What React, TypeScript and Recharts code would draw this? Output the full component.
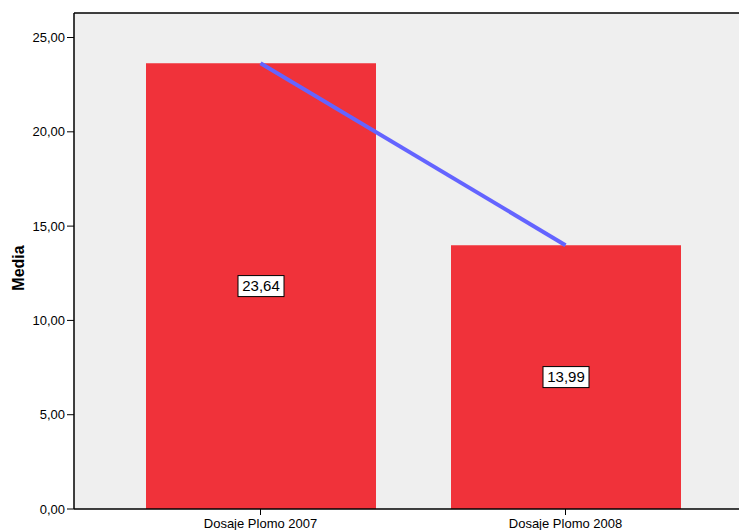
import React from "react";
import {
  Bar,
  CartesianGrid,
  ComposedChart,
  LabelList,
  Line,
  ReferenceLine,
  XAxis,
  YAxis,
} from "recharts";

const categories = ["Dosaje Plomo 2007", "Dosaje Plomo 2008"];
const means = [23.64, 13.99];
const yTicks = [0, 5, 10, 15, 20, 25];
const yMax = 26.3;

const data = categories.map((name, i) => ({ name, media: means[i] }));

const fmt = (v: number) => v.toFixed(2).replace(".", ",");

function ValueBox(props: any) {
  const { x, y, width, height, value } = props;
  const cx = x + width / 2;
  const cy = y + height / 2;
  const txt = fmt(value);
  const w = 46;
  const h = 21;
  return (
    <g>
      <rect x={cx - w / 2} y={cy - h / 2} width={w} height={h} fill="#fff" stroke="#000" strokeWidth={1} />
      <text x={cx} y={cy + 5} textAnchor="middle" fontSize={15} fill="#000">
        {txt}
      </text>
    </g>
  );
}

function AxisTitle() {
  return (
    <text
      x={24}
      y={268}
      transform="rotate(-90 24 268)"
      textAnchor="middle"
      fontSize={16}
      fontWeight="bold"
      fill="#000"
    >
      Media
    </text>
  );
}

export default function App() {
  return (
    <div style={{ position: "absolute", left: 0, top: 0, fontFamily: "Arial, 'Liberation Sans', sans-serif" }}>
      <ComposedChart
        width={739}
        height={530}
        data={data}
        margin={{ top: 13, right: 0, left: 0, bottom: 0 }}
        barSize={230}
      >
        <CartesianGrid horizontal={false} vertical={false} fill="#efefef" />
        <XAxis
          dataKey="name"
          height={21}
          padding={{ left: 34, right: 21 }}
          stroke="#000"
          tick={{ fill: "#000", fontSize: 13 }}
          tickSize={6}
          tickMargin={4}
          axisLine={{ stroke: "#000", strokeWidth: 1.5 }}
        />
        <YAxis
          width={74}
          domain={[0, yMax]}
          ticks={yTicks}
          tickFormatter={fmt}
          stroke="#000"
          tick={{ fill: "#000", fontSize: 13 }}
          tickSize={7}
          tickMargin={2}
          axisLine={{ stroke: "#000", strokeWidth: 1.5 }}
          label={{ content: () => <AxisTitle /> }}
        />
        <ReferenceLine y={yMax} stroke="#000" strokeWidth={1.5} />
        <Bar dataKey="media" fill="#f0323a" isAnimationActive={false}>
          <LabelList dataKey="media" content={<ValueBox />} />
        </Bar>
        <Line
          dataKey="media"
          stroke="#6464ff"
          strokeWidth={4}
          dot={false}
          activeDot={false}
          isAnimationActive={false}
        />
      </ComposedChart>
    </div>
  );
}
